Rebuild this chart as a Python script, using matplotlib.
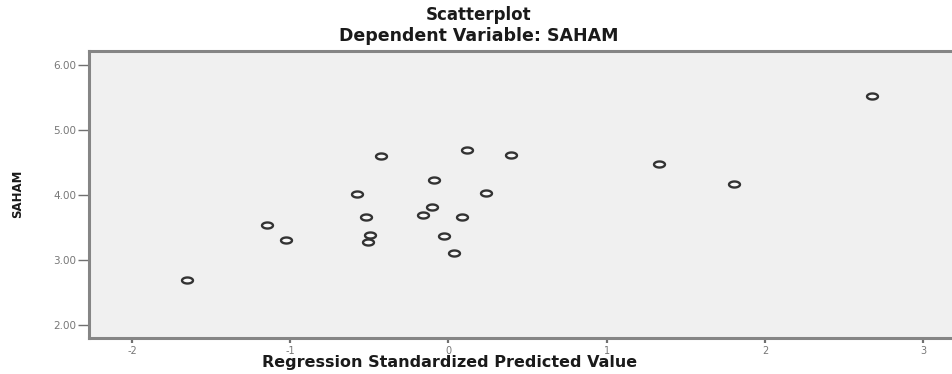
import matplotlib
matplotlib.use("Agg")
import matplotlib.pyplot as plt
import numpy as np
from matplotlib.path import Path

# Data
pred = [-1.654, -1.148, -1.027, -0.576, -0.426, -0.523, -0.496, -0.507, -0.159, -0.106,
        -0.090, -0.027, 0.033, 0.087, 0.115, 0.239, 0.395, 1.332, 1.804, 2.673]
saham = [2.692, 3.534, 3.312, 4.015, 4.600, 3.657, 3.380, 3.272, 3.697, 3.811,
         4.231, 3.369, 3.112, 3.666, 4.692, 4.026, 4.615, 4.477, 4.174, 5.523]
xticks = [-2, -1, 0, 1, 2, 3]
xticklabels = ["-2", "-1", "0", "1", "2", "3"]
yticks = [2.0, 3.0, 4.0, 5.0, 6.0]
yticklabels = ["2.00", "3.00", "4.00", "5.00", "6.00"]

plt.rcParams['font.family'] = ['DejaVu Sans']

W, H = 953, 374
fig = plt.figure(figsize=(W / 100, H / 100), dpi=100)
fig.patch.set_facecolor("white")
left, right, top, bottom = 89, 953, 51, 338
ax = fig.add_axes([left / W, 1 - bottom / H, (right - left) / W, (bottom - top) / H])
ax.set_facecolor("#f0f0f0")
ax.set_xlim(-2.271, 3.187)
ax.set_ylim(1.80, 6.215)

t = np.linspace(0, 2 * np.pi, 60)
ell = Path(np.column_stack([np.cos(t), 0.55 * np.sin(t)]), closed=True)
ax.scatter(pred, saham, marker=ell, s=62, facecolors="#f8f8f8",
           edgecolors="#333333", linewidths=1.7, zorder=3)

for sp in ["left", "bottom", "top"]:
    ax.spines[sp].set_color("#858585")
    ax.spines[sp].set_linewidth(2.2)
ax.spines["right"].set_visible(False)

ax.set_xticks(xticks)
ax.set_xticklabels(xticklabels)
ax.set_yticks(yticks)
ax.set_yticklabels(yticklabels)
ax.tick_params(axis="y", direction="out", length=8, width=1.0, color="#707070",
               labelsize=7.5, labelcolor="#777777", pad=1)
ax.tick_params(axis="x", direction="out", length=3.5, width=1.6, color="#707070",
               labelsize=7, labelcolor="#777777", pad=2)

fig.text(479 / W, 1 - 15 / H, "Scatterplot", ha="center", va="center",
         fontsize=12, fontweight="bold", color="#1a1a1a")
fig.text(479 / W, 1 - 36 / H, "Dependent Variable: SAHAM", ha="center", va="center",
         fontsize=12.5, fontweight="bold", color="#1a1a1a")
fig.text(450 / W, 1 - 362 / H, "Regression Standardized Predicted Value", ha="center",
         va="center", fontsize=11.5, fontweight="bold", color="#1a1a1a")
fig.text(18 / W, 1 - 194 / H, "SAHAM", ha="center", va="center", rotation=90,
         fontsize=8.5, fontweight="bold", color="#1a1a1a")

fig.savefig("out.png", dpi=100, facecolor="white")
